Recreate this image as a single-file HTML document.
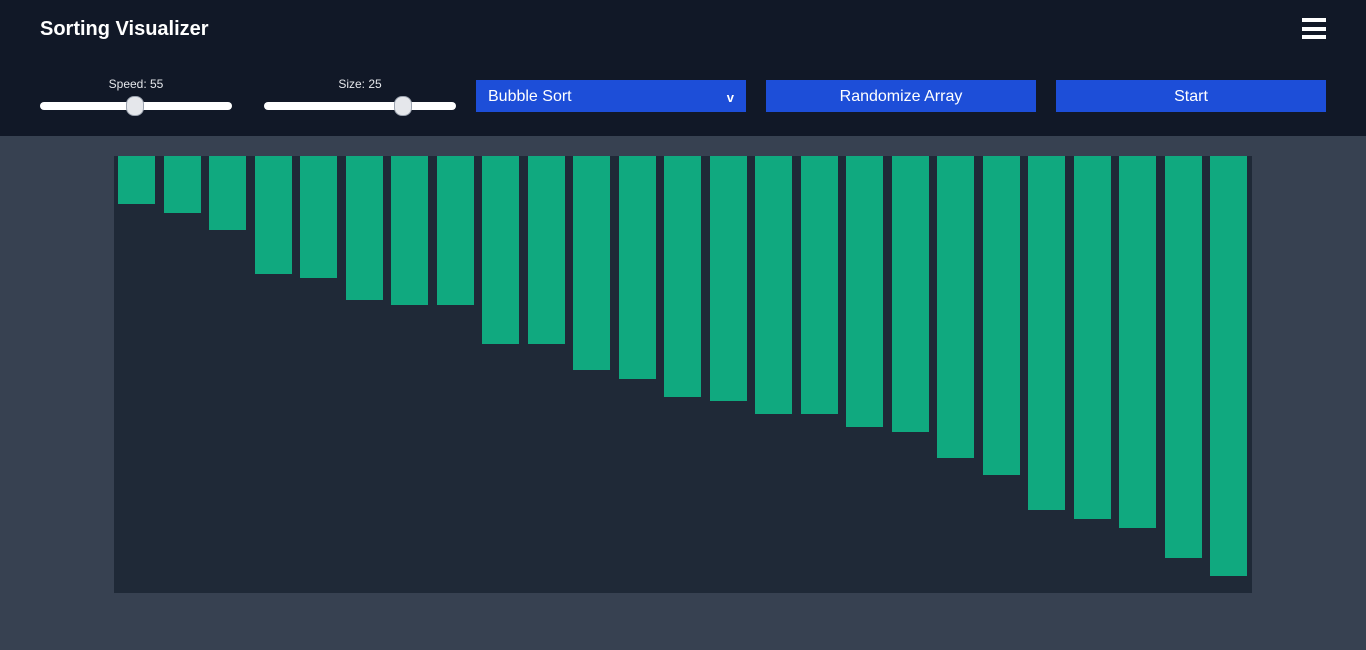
<!DOCTYPE html>
<html><head><meta charset="utf-8"><style>
*{box-sizing:border-box;margin:0;padding:0}
body{width:1366px;height:650px;background:#374151;font-family:"Liberation Sans",sans-serif;overflow:hidden;position:relative}
#hdr{position:absolute;left:0;top:0;width:1366px;height:136px;background:#111827}
.title{position:absolute;left:40px;top:18px;color:#fff;font-weight:bold;font-size:20px}
.menu{position:absolute;left:1302px;top:18px;width:24px;height:21px}
.menu div{height:4px;background:#fff;margin-bottom:4.5px}
.menu div:last-child{margin-bottom:0}
.lbl{position:absolute;color:#e5e7eb;font-size:12px;width:192px;text-align:center}
.track{position:absolute;height:8px;width:192px;background:#fff;border-radius:4px}
.thumb{position:absolute;width:18px;height:20px;border-radius:8px;background:#e5e7eb;border:1px solid #9ca3af;top:-6px}
.btn{position:absolute;top:80px;height:32px;width:270px;background:#1d4ed8;color:#fff;font-size:16px;line-height:34px}
#chart{position:absolute;left:114px;top:156px;width:1138px;height:437px;background:#1f2937}
.bar{position:absolute;top:0;width:37px;background:#10a97f}
</style></head><body>
<div id="hdr">
<div class="title">Sorting Visualizer</div>
<div class="menu"><div></div><div></div><div></div></div>
<div class="lbl" style="left:40px;top:77px">Speed: 55</div>
<div class="track" style="left:40px;top:102px"><div class="thumb" style="left:86px"></div></div>
<div class="lbl" style="left:264px;top:77px">Size: 25</div>
<div class="track" style="left:264px;top:102px"><div class="thumb" style="left:130px"></div></div>
<div class="btn" style="left:476px;padding-left:12px">Bubble Sort<span style="position:absolute;right:12px;top:1px;font-size:13px;font-weight:bold">v</span></div>
<div class="btn" style="left:766px;text-align:center">Randomize Array</div>
<div class="btn" style="left:1056px;text-align:center">Start</div>
</div>
<div id="chart"></div>
<script>
const values=[48,57,74,118,122,144,149,149,188,188,214,223,241,245,258,258,271,276,302,319,354,363,372,402,420];
const chart=document.getElementById('chart');
const slot=1138/values.length;
values.forEach((v,i)=>{
const b=document.createElement('div');
b.className='bar';
b.style.left=(i*slot+4)+'px';
b.style.height=v+'px';


chart.appendChild(b);
});
</script>
</body></html>
